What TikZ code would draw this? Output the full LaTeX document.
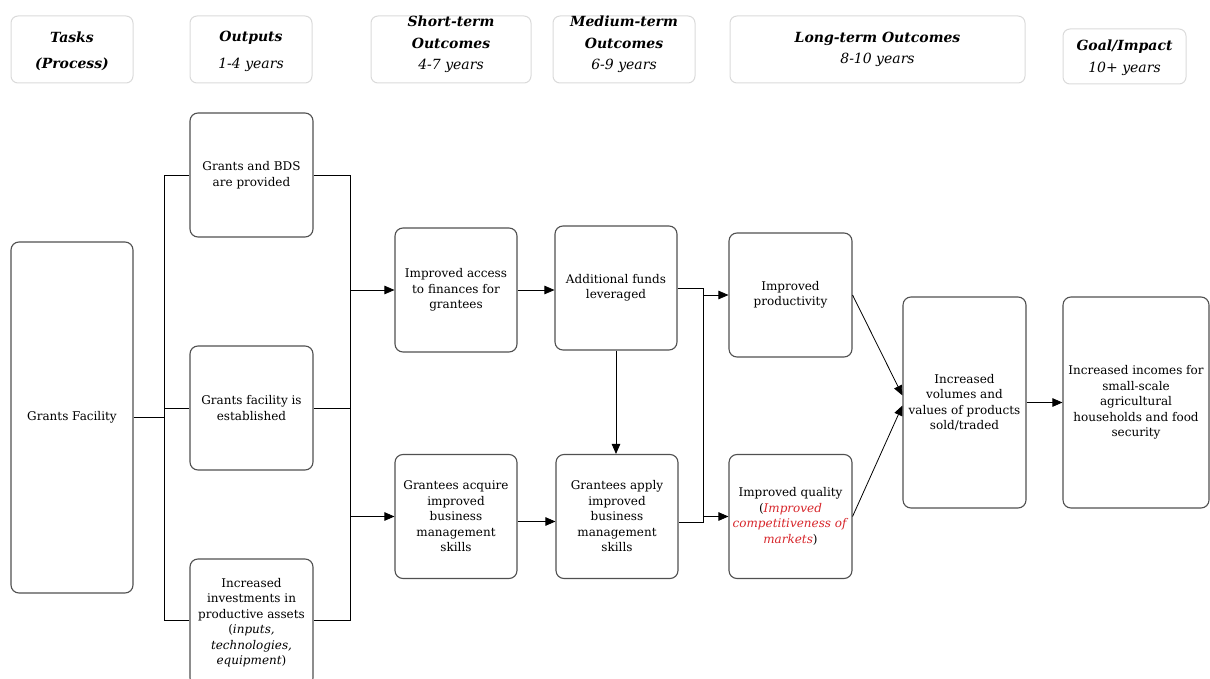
\documentclass[tikz,border=0pt]{standalone}
\usepackage{fontspec}
\setmainfont{DejaVu Serif}
\usetikzlibrary{arrows.meta}
\definecolor{boxgray}{HTML}{505050}
\definecolor{hdrgray}{HTML}{DADADA}
\definecolor{redtxt}{HTML}{D7262B}
\tikzstyle{stepbox} = [draw=boxgray, line width=1.1pt, rounded corners=8pt, align=center, inner sep=0pt, minimum width=122pt, minimum height=124pt, font=\fontsize{12}{15.5}\selectfont]
\tikzstyle{hdrbox} = [draw=hdrgray, line width=1pt, rounded corners=7pt, minimum height=67pt, inner sep=0pt]
\tikzstyle{hdrtext} = [align=center, inner sep=0pt, font=\fontsize{14}{21.5}\selectfont]
\tikzstyle{flow} = [line width=0.8pt]
\tikzstyle{arr} = [flow, -{Triangle[length=10pt,width=8.5pt]}]
\newcommand{\hd}[1]{\textbf{\textit{#1}}}
\newcommand{\rt}[1]{\textcolor{redtxt}{\textit{#1}}}
\begin{document}
\begin{tikzpicture}[x=1pt, y=-1pt]
\useasboundingbox (0,0) rectangle (1210,679);
% header row
\node[hdrbox, minimum width=122pt] (hTasks) at (72,49.5) {};
\node[hdrtext, yshift=-2pt] (tTasks) at (hTasks) {\hd{Tasks}\\[5pt]\hd{(Process)}};
\node[hdrbox, minimum width=122pt] (hOutputs) at (251,49.5) {};
\node[hdrtext, yshift=-2pt] (tOutputs) at (hOutputs) {\hd{Outputs}\\[5pt]\textit{1-4 years}};
\node[hdrbox, minimum width=160pt] (hShort) at (451,49.5) {};
\node[hdrtext, yshift=5pt] (tShort) at (hShort) {\hd{Short-term}\\\hd{Outcomes}\\\textit{4-7 years}};
\node[hdrbox, minimum width=142pt] (hMedium) at (624,49.5) {};
\node[hdrtext, yshift=5pt] (tMedium) at (hMedium) {\hd{Medium-term}\\\hd{Outcomes}\\\textit{6-9 years}};
\node[hdrbox, minimum width=295pt] (hLong) at (877.5,49.5) {};
\node[hdrtext] (tLong) at (hLong) {\hd{Long-term Outcomes}\\\textit{8-10 years}};
\node[hdrbox, minimum width=123pt, minimum height=55pt] (hGoal) at (1124.5,56.5) {};
\node[hdrtext, yshift=-1pt] (tGoal) at (hGoal) {\hd{Goal/Impact}\\\textit{10+ years}};

% boxes
\node[stepbox, minimum height=351pt] (facility) at (72,417.5) {Grants Facility};
\node[stepbox, minimum width=123pt] (bds) at (251.5,175) {Grants and BDS\\are provided};
\node[stepbox, minimum width=123pt] (established) at (251.5,408) {Grants facility is\\established};
\node[stepbox, minimum width=123pt, minimum height=127pt] (invest) at (251.5,622.5) {Increased\\investments in\\productive assets\\(\textit{inputs,}\\\textit{technologies,}\\\textit{equipment})};
\node[stepbox] (access) at (456,290) {Improved access\\to finances for\\grantees};
\node[stepbox] (funds) at (616,288) {Additional funds\\leveraged};
\node[stepbox] (acquire) at (456,516.5) {Grantees acquire\\improved\\business\\management\\skills};
\node[stepbox] (apply) at (617,516.5) {Grantees apply\\improved\\business\\management\\skills};
\node[stepbox, minimum width=123pt] (prod) at (790.5,295) {Improved\\productivity};
\node[stepbox, minimum width=123pt] (quality) at (790.5,516.5) {Improved quality\\(\rt{Improved}\\\rt{competitiveness of}\\\rt{markets})};
\node[stepbox, minimum width=123pt, minimum height=211pt] (volumes) at (964.5,402.5) {Increased\\volumes and\\values of products\\sold/traded};
\node[stepbox, minimum width=146pt, minimum height=211pt] (incomes) at (1136,402.5) {Increased incomes for\\small-scale\\agricultural\\households and food\\security};

% brackets
\coordinate (lt) at (164,175);
\coordinate (lb) at (164,620);
\coordinate (rt) at (350,175);
\coordinate (rb) at (350,620);
\coordinate (jt) at (703,288);
\coordinate (jb) at (703,522);
\draw[flow] (bds.west) -- (lt) -- (lb) -- (invest.west |- lb);
\draw[flow] (facility.east) -- (facility.east -| lt);
\draw[flow] (established.west) -- (established.west -| lt);
\draw[flow] (bds.east) -- (rt) -- (rb) -- (invest.east |- rb);
\draw[flow] (established.east) -- (established.east -| rt);
\draw[arr] (access.west -| rt) -- (access.west);
\draw[arr] (acquire.west -| rt) -- (acquire.west);

% arrows
\draw[arr] (access.east) -- (access.east -| funds.west);
\draw[arr] ([yshift=-5pt]acquire.east) -- ([yshift=-5pt]acquire.east -| apply.west);
\draw[arr] (funds.south) -- (funds.south |- apply.north);
\draw[flow] (funds.east) -- (jt) -- (jb) -- (jb -| apply.east);
\draw[arr] (prod.west -| jt) -- (prod.west);
\draw[arr] (quality.west -| jt) -- (quality.west);
\draw[arr] (prod.east) -- ([yshift=7pt]volumes.west);
\draw[arr] (quality.east) -- ([yshift=-3pt]volumes.west);
\draw[arr] (volumes) -- (incomes);
\end{tikzpicture}
\end{document}
